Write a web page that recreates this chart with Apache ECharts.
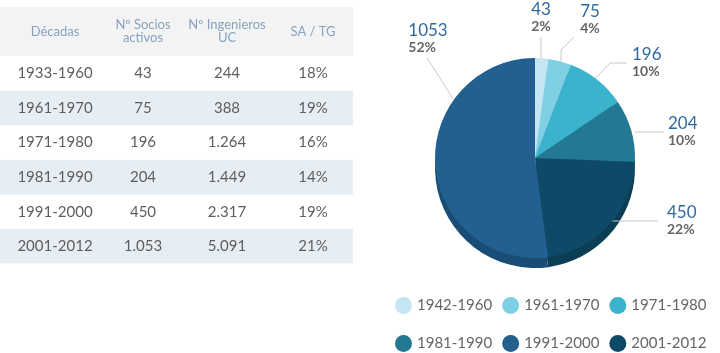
<!DOCTYPE html>
<html>
<head>
<meta charset="utf-8">
<script src="https://cdn.jsdelivr.net/npm/echarts@6/dist/echarts.min.js"></script>
<style>
  html, body { margin: 0; padding: 0; background: #fff; }
  #main { width: 720px; height: 353px; }
</style>
</head>
<body>
<div id="main"></div>
<script>
// tabla
const headers = ['Décadas', 'Nº Socios\nactivos', 'Nº Ingenieros\nUC', 'SA / TG']
const decadas = ['1933-1960', '1961-1970', '1971-1980', '1981-1990', '1991-2000', '2001-2012']
const socios = ['43', '75', '196', '204', '450', '1.053']
const ingenieros = ['244', '388', '1.264', '1.449', '2.317', '5.091']
const saTg = ['18%', '19%', '16%', '14%', '19%', '21%']

// torta: nombres de la leyenda y su valor (tal como aparece en el gráfico)
const pieNames = ['1942-1960', '1961-1970', '1971-1980', '1981-1990', '1991-2000', '2001-2012']
const pieValues = [43, 75, 196, 204, 1053, 450]

const colors = ['#c4e6f3', '#7fd0e4', '#3bb3cc', '#237893', '#22608f', '#0e4a67']
const sideColors = ['#a6cfe0', '#62b3c8', '#2c97ae', '#1b6278', '#1a4d76', '#0b3d54']

// orden en la torta (sentido horario desde arriba): 43, 75, 196, 204, 450, 1053
const pieOrder = [0, 1, 2, 3, 5, 4]
const total = pieValues.reduce((a, b) => a + b, 0)

// posiciones de etiquetas y líneas guía, en el orden de la torta
const labelSpots = [
  { line: [[541, 59], [541, 48], [541, 37]], x: 541, y: 34, align: 'center', va: 'bottom' },
  { line: [[561, 62], [561, 50], [574, 37]], x: 590, y: 20, align: 'center', va: 'middle' },
  { line: [[595, 79], [610, 63], [627, 63]], x: 632, y: 63, align: 'left', va: 'middle' },
  { line: [[635, 132], [650, 132], [664, 132]], x: 668, y: 132, align: 'left', va: 'middle' },
  { line: [[612, 221], [635, 221], [658, 221]], x: 667, y: 221, align: 'left', va: 'middle' },
  { line: [[453, 99], [440, 78], [427, 58]], x: 428, y: 55, align: 'center', va: 'bottom' }
]

const colX = [55, 143, 227, 313]
const tableW = 353
const headTop = 7
const headH = 49
const rowH = 34.6

const graphic = []
// fondo cabecera
graphic.push({
  type: 'rect',
  shape: { x: 0, y: headTop, width: tableW, height: headH },
  style: { fill: '#f3f3f3' },
  silent: true
})
headers.forEach((h, i) => {
  graphic.push({
    type: 'text',
    x: colX[i], y: headTop + headH / 2,
    style: {
      text: h, fill: '#86a3c0', font: '13px Lato',
      align: 'center', verticalAlign: 'middle', lineHeight: 13
    },
    silent: true
  })
})
decadas.forEach((d, r) => {
  const y0 = headTop + headH + r * rowH
  if (r % 2 === 1) {
    graphic.push({
      type: 'rect',
      shape: { x: 0, y: y0, width: tableW, height: rowH },
      style: { fill: '#e6edf3' },
      silent: true
    })
  }
  const cells = [d, socios[r], ingenieros[r], saTg[r]]
  cells.forEach((c, i) => {
    graphic.push({
      type: 'text',
      x: colX[i], y: y0 + rowH / 2,
      style: {
        text: c, fill: '#5e5e5e', font: '15px Lato',
        align: 'center', verticalAlign: 'middle'
      },
      silent: true
    })
  })
})

const mainData = pieOrder.map(i => ({
  name: pieNames[i],
  value: pieValues[i],
  itemStyle: { color: colors[i] }
}))
const sideData = pieOrder.map(i => ({
  name: pieNames[i],
  value: pieValues[i],
  itemStyle: { color: sideColors[i] }
}))

const legendBase = {
  icon: 'circle',
  itemWidth: 17,
  itemHeight: 17,
  itemGap: 10,
  textStyle: { color: '#666', fontSize: 15, fontFamily: 'Lato', width: 82 },
  selectedMode: false
}

const option = {
  animation: false,
  graphic,
  legend: [
    Object.assign({ left: 390, top: 292, data: pieNames.slice(0, 3) }, legendBase),
    Object.assign({ left: 390, top: 330, data: pieNames.slice(3) }, legendBase)
  ],
  series: [
    {
      name: 'Socios',
      type: 'pie',
      z: 3,
      center: [535, 158],
      radius: 100,
      startAngle: 90,
      clockwise: true,
      data: mainData,
      itemStyle: { borderWidth: 0 },
      label: {
        show: true,
        formatter: p => '{v|' + p.value + '}\n{p|' + Math.round(p.value / total * 100) + '%}',
        rich: {
          v: { color: '#2f6aa0', fontSize: 17, fontFamily: 'Lato', lineHeight: 17, align: 'left' },
          p: { color: '#666', fontSize: 14, fontWeight: 'bold', fontFamily: 'Lato', lineHeight: 16, align: 'left' }
        }
      },
      labelLine: {
        show: true,
        lineStyle: { color: '#c8c8c8', width: 1 }
      },
      labelLayout: function (params) {
        const s = labelSpots[params.dataIndex]
        return {
          x: s.x,
          y: s.y,
          align: s.align,
          verticalAlign: s.va,
          labelLinePoints: s.line
        }
      }
    },
    {
      name: 'Lado',
      type: 'pie',
      z: 1,
      silent: true,
      center: [535, 168],
      radius: 100,
      startAngle: 90,
      clockwise: true,
      data: sideData,
      itemStyle: { borderWidth: 0 },
      label: { show: false },
      labelLine: { show: false }
    }
  ]
}

const chart = echarts.init(document.getElementById('main'))
chart.setOption(option)
</script>
</body>
</html>
